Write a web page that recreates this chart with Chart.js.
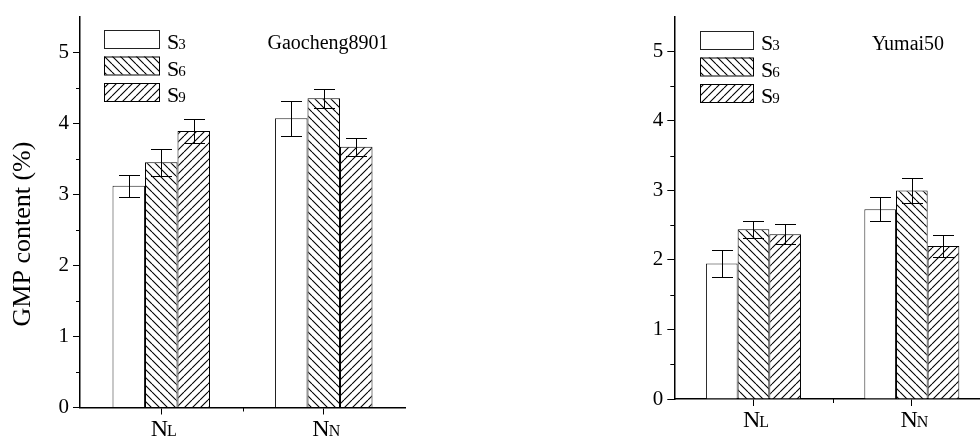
<!DOCTYPE html>
<html><head><meta charset="utf-8">
<script src="https://cdn.jsdelivr.net/npm/chart.js@4/dist/chart.umd.min.js"></script>
<style>
html,body{margin:0;padding:0;background:#fff;overflow:hidden;width:980px;height:437px;}
#wrap{position:relative;width:980px;height:437px;overflow:hidden;background:#fff;}
canvas{position:absolute;top:0;}
#c1{left:0;width:420px;height:437px;}
#c2{left:580px;width:420px;height:437px;}
</style></head><body>
<div id="wrap"><canvas id="c1" width="420" height="437"></canvas><canvas id="c2" width="420" height="437"></canvas></div>
<script>
// ---- data ----
const categories = ['NL', 'NN'];
const seriesNames = ['S3', 'S6', 'S9'];
const yTicks = [0, 1, 2, 3, 4, 5];
const yMinorTicks = [0.5, 1.5, 2.5, 3.5, 4.5];
const yMax = 5.5;

const gaoS3 = [3.12, 4.07];
const gaoS6 = [3.45, 4.35];
const gaoS9 = [3.89, 3.67];
const gaoS3Err = [0.155, 0.245];
const gaoS6Err = [0.19, 0.13];
const gaoS9Err = [0.17, 0.125];

const yuS3 = [1.95, 2.73];
const yuS6 = [2.44, 3.00];
const yuS9 = [2.37, 2.20];
const yuS3Err = [0.19, 0.17];
const yuS6Err = [0.12, 0.175];
const yuS9Err = [0.14, 0.16];

const titleLeft = 'Gaocheng8901';
const titleRight = 'Yumai50';
const yAxisTitle = 'GMP content (%)';

// ---- styling helpers ----
const FONT = "'Liberation Serif', 'Times New Roman', serif";

function makeHatch(dir) {
  const s = 8;
  const c = document.createElement('canvas');
  c.width = s; c.height = s;
  const g = c.getContext('2d');
  g.fillStyle = '#fff'; g.fillRect(0, 0, s, s);
  g.strokeStyle = '#000'; g.lineWidth = 1.1;
  g.beginPath();
  for (const k of [-s, 0, s]) {
    if (dir === 'back') { g.moveTo(k, 0); g.lineTo(k + s, s); }
    else { g.moveTo(k, s); g.lineTo(k + s, 0); }
  }
  g.stroke();
  return document.createElement('canvas').getContext('2d').createPattern(c, 'repeat');
}

function drawSubText(ctx, main, sub, x, y, bigSize, smallSize, align) {
  ctx.font = bigSize + 'px ' + FONT;
  const w1 = ctx.measureText(main).width;
  ctx.font = smallSize + 'px ' + FONT;
  const w2 = ctx.measureText(sub).width;
  let sx = x;
  if (align === 'center') sx = x - (w1 + w2) / 2;
  ctx.textAlign = 'left';
  ctx.textBaseline = 'alphabetic';
  ctx.fillStyle = '#000';
  ctx.font = bigSize + 'px ' + FONT;
  ctx.fillText(main, sx, y);
  ctx.font = smallSize + 'px ' + FONT;
  ctx.fillText(sub, sx + w1 - 1, y);
}

const decoPlugin = {
  id: 'deco',
  afterDatasetsDraw(chart, args, opts) {
    const ctx = chart.ctx;
    const ys = chart.scales.y;
    ctx.save();
    ctx.strokeStyle = '#000';
    ctx.lineWidth = 1;
    chart.data.datasets.forEach((ds, di) => {
      const meta = chart.getDatasetMeta(di);
      meta.data.forEach((el, i) => {
        const v = ds.data[i], e = ds.errors[i];
        const x = Math.round(el.x) + 0.5;
        const yt = Math.round(ys.getPixelForValue(v + e)) + 0.5;
        const yb = Math.round(ys.getPixelForValue(v - e)) + 0.5;
        const hw = opts.capHalf;
        ctx.beginPath();
        ctx.moveTo(x, yt); ctx.lineTo(x, yb);
        ctx.moveTo(x - hw, yt); ctx.lineTo(x + hw, yt);
        ctx.moveTo(x - hw, yb); ctx.lineTo(x + hw, yb);
        ctx.stroke();
      });
    });
    ctx.restore();
  },
  afterDraw(chart, args, opts) {
    const ctx = chart.ctx;
    const xs = chart.scales.x, ys = chart.scales.y;
    const area = chart.chartArea;
    ctx.save();
    ctx.strokeStyle = '#000';
    ctx.lineWidth = 1;
    // minor y ticks
    ctx.beginPath();
    yMinorTicks.forEach(v => {
      const y = Math.round(ys.getPixelForValue(v)) + 0.5;
      ctx.moveTo(area.left - 4, y); ctx.lineTo(area.left, y);
    });
    // middle x tick between categories
    for (let i = 0; i < categories.length - 1; i++) {
      const xm = Math.round((xs.getPixelForValue(i) + xs.getPixelForValue(i + 1)) / 2) + 0.5;
      ctx.moveTo(xm, area.bottom); ctx.lineTo(xm, area.bottom + 4);
    }
    ctx.stroke();
    // x category labels (N with smaller suffix)
    categories.forEach((c, i) => {
      const x = xs.getPixelForValue(i);
      drawSubText(ctx, c[0], c.slice(1), x + 3, area.bottom + opts.xLabelDy, 24, 16, 'center');
    });
    // legend
    const L = opts.legend;
    chart.data.datasets.forEach((ds, i) => {
      const bx = L.x, by = L.y + i * L.step;
      ctx.fillStyle = ds.backgroundColor;
      ctx.fillRect(bx, by, L.w, L.h);
      ctx.strokeStyle = ds.borderColor;
      ctx.lineWidth = 1;
      ctx.strokeRect(bx + 0.5, by + 0.5, L.w, L.h);
      drawSubText(ctx, ds.label[0], ds.label.slice(1), bx + L.w + 8, by + L.h + 1, 22, 15, 'left');
    });
    // chart title
    ctx.fillStyle = '#000';
    ctx.font = '20px ' + FONT;
    ctx.textAlign = 'center';
    ctx.textBaseline = 'alphabetic';
    ctx.fillText(opts.title.text, opts.title.x, opts.title.y);
    // y title
    if (opts.yTitle) {
      ctx.save();
      ctx.translate(opts.yTitle.x, opts.yTitle.y);
      ctx.rotate(-Math.PI / 2);
      ctx.font = opts.yTitle.size + 'px ' + FONT;
      ctx.textAlign = 'center';
      ctx.textBaseline = 'middle';
      ctx.fillText(opts.yTitle.text, 0, 0);
      ctx.restore();
    }
    ctx.restore();
  }
};

const hatchBack = makeHatch('back');
const hatchFwd = makeHatch('fwd');

function makeChart(id, vals, errs, pad, yWidth, xHeight, deco) {
  const fills = ['#ffffff', hatchBack, hatchFwd];
  const borders = ['#222', '#000', '#000'];
  return new Chart(document.getElementById(id), {
    type: 'bar',
    data: {
      labels: categories,
      datasets: seriesNames.map((n, i) => ({
        label: n,
        data: vals[i],
        errors: errs[i],
        backgroundColor: fills[i],
        borderColor: borders[i],
        borderWidth: 1,
        borderSkipped: 'bottom'
      }))
    },
    options: {
      responsive: false,
      animation: false,
      events: [],
      categoryPercentage: 0.6,
      barPercentage: 1.0,
      layout: { padding: pad },
      plugins: {
        legend: { display: false },
        tooltip: { enabled: false },
        deco: deco
      },
      scales: {
        x: {
          grid: { display: true, drawOnChartArea: false, offset: false, tickLength: 7, color: '#000', lineWidth: 1 },
          border: { display: true, color: '#000', width: 1.5 },
          ticks: { display: false },
          afterFit(s) { s.height = xHeight; }
        },
        y: {
          min: 0, max: yMax,
          afterBuildTicks(s) { s.ticks = yTicks.map(v => ({ value: v })); },
          ticks: {
            color: '#000',
            font: { family: FONT, size: 21 },
            padding: 4,
            callback: v => String(v)
          },
          grid: { display: true, drawOnChartArea: false, tickLength: 7, color: '#000', lineWidth: 1 },
          border: { display: true, color: '#000', width: 1.5 },
          afterFit(s) { s.width = yWidth; }
        }
      }
    },
    plugins: [decoPlugin]
  });
}

makeChart('c1',
  [gaoS3, gaoS6, gaoS9], [gaoS3Err, gaoS6Err, gaoS9Err],
  { left: 0, right: 15, top: 13, bottom: 0 }, 80, 29.5,
  {
    capHalf: 10.5, xLabelDy: 28,
    legend: { x: 104, y: 30, w: 55, h: 18, step: 26.5 },
    title: { text: titleLeft, x: 328, y: 49 },
    yTitle: { text: yAxisTitle, x: 23, y: 234, size: 26 }
  });

makeChart('c2',
  [yuS3, yuS6, yuS9], [yuS3Err, yuS6Err, yuS9Err],
  { left: 0, right: 9, top: 12.7, bottom: 0 }, 94.3, 38,
  {
    capHalf: 10.5, xLabelDy: 28,
    legend: { x: 120, y: 31, w: 53, h: 18, step: 26.5 },
    title: { text: titleRight, x: 328, y: 50 },
    yTitle: null
  });
</script>
</body></html>
